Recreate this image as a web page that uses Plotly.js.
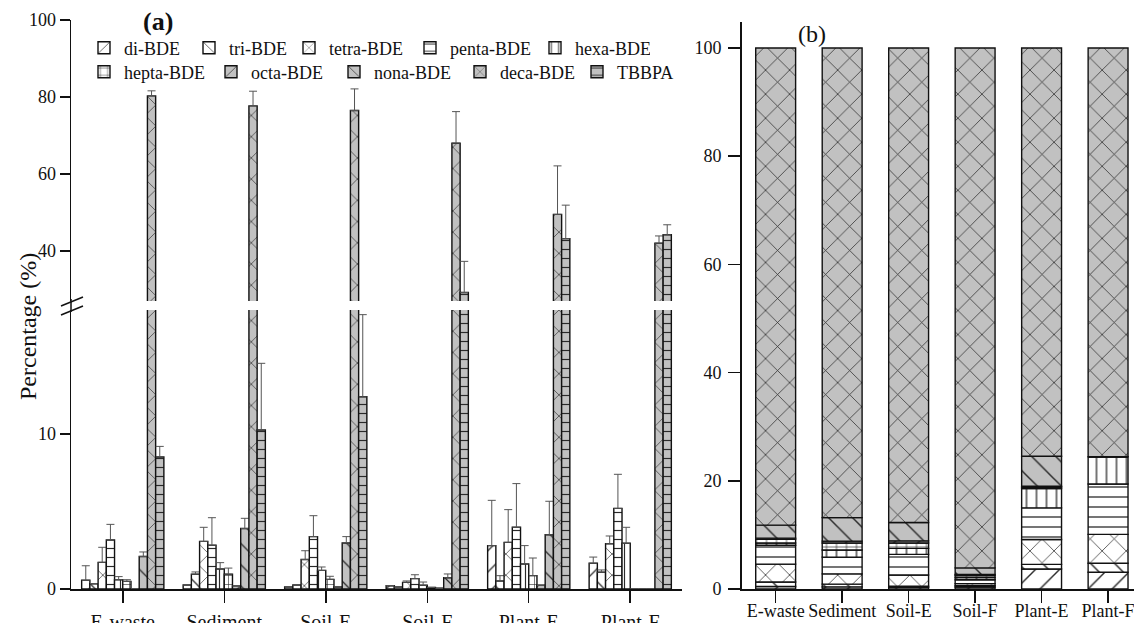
<!DOCTYPE html>
<html><head><meta charset="utf-8">
<script src="https://cdn.plot.ly/plotly-3.0.1.min.js"></script>
<style>body{margin:0;background:#fff}#chart{width:1134px;height:623px}</style>
</head><body><div id="chart"></div>
<script>
// ---------- DATA ----------
const categories = ['E-waste', 'Sediment', 'Soil-E', 'Soil-F', 'Plant-E', 'Plant-F'];
const seriesNames = ['di-BDE', 'tri-BDE', 'tetra-BDE', 'penta-BDE', 'hexa-BDE', 'hepta-BDE', 'octa-BDE', 'nona-BDE', 'deca-BDE', 'TBBPA'];

// Panel (a): mean percentage (%) and upper error (+SD)
const diA      = [0.56, 0.26, 0.13, 0.21, 2.80, 1.66];
const triA     = [0.34, 0.95, 0.26, 0.13, 0.52, 1.08];
const tetraA   = [1.72, 3.07, 1.90, 0.43, 3.01, 2.92];
const pentaA   = [3.16, 2.82, 3.38, 0.67, 3.98, 5.20];
const hexaA    = [0.60, 1.29, 1.20, 0.24, 1.61, 2.95];
const heptaA   = [0.49, 0.95, 0.62, 0.10, 0.86, 0.00];
const octaA    = [0.00, 0.20, 0.13, 0.05, 0.24, 0.00];
const nonaA    = [2.10, 3.90, 2.97, 0.73, 3.50, 0.00];
const decaA    = [80.3, 77.7, 76.5, 68.0, 49.5, 42.0];
const tbbpaA   = [8.52, 10.26, 12.4, 29.2, 43.2, 44.2];

const diErr    = [0.94, 0.00, 0.00, 0.00, 2.92, 0.40];
const triErr   = [0.00, 0.15, 0.00, 0.00, 0.34, 0.15];
const tetraErr = [0.97, 0.91, 0.57, 0.09, 2.11, 0.50];
const pentaErr = [1.01, 1.78, 1.35, 0.25, 2.82, 2.20];
const hexaErr  = [0.20, 0.41, 0.22, 0.21, 1.19, 1.03];
const heptaErr = [0.11, 0.40, 0.20, 0.00, 1.14, 0.00];
const octaErr  = [0.00, 0.00, 0.00, 0.00, 0.00, 0.00];
const nonaErr  = [0.29, 0.66, 0.41, 0.24, 2.16, 0.00];
const decaErr  = [1.3, 3.8, 5.6, 8.2, 12.6, 1.9];
const tbbpaErr = [0.68, 4.3, 5.3, 8.1, 8.7, 2.6];

// Panel (b): composition of PBDEs (%)
const diB    = [0.45, 0.40, 0.30, 0.35, 3.70, 3.10];
const triB   = [0.85, 0.50, 0.20, 0.25, 0.85, 1.65];
const tetraB = [3.30, 1.90, 2.10, 0.40, 4.60, 5.35];
const pentaB = [3.50, 3.10, 3.80, 0.70, 5.85, 9.30];
const hexaB  = [0.40, 1.30, 1.10, 0.40, 3.55, 5.05];
const heptaB = [0.70, 1.30, 1.00, 0.40, 0.25, 0.00];
const octaB  = [0.20, 0.35, 0.40, 0.20, 0.20, 0.00];
const nonaB  = [2.40, 4.35, 3.40, 1.20, 5.55, 0.00];
const decaB  = [88.20, 86.80, 87.70, 96.10, 75.45, 75.55];

// ---------- STYLE ----------
const FONT = 'Liberation Serif';
const GRAY = '#c1c1c1';
const styles = [
  {shape: '/',  bg: '#ffffff', diag: true},
  {shape: '\\', bg: '#ffffff', diag: true},
  {shape: 'x',  bg: '#ffffff', diag: true},
  {shape: '-',  bg: '#ffffff', diag: false},
  {shape: '|',  bg: '#ffffff', diag: false},
  {shape: '+',  bg: '#ffffff', diag: false},
  {shape: '/',  bg: GRAY, diag: true},
  {shape: '\\', bg: GRAY, diag: true},
  {shape: 'x',  bg: GRAY, diag: true},
  {shape: '-',  bg: GRAY, diag: false}
];
const legendWidths = [60, 55, 76, 80, 70, 82, 78, 81, 72, 60];

const valsA = [diA, triA, tetraA, pentaA, hexaA, heptaA, octaA, nonaA, decaA, tbbpaA];
const errsA = [diErr, triErr, tetraErr, pentaErr, hexaErr, heptaErr, octaErr, nonaErr, decaErr, tbbpaErr];
const valsB = [diB, triB, tetraB, pentaB, hexaB, heptaB, octaB, nonaB, decaB];

function marker(i, panel) {
  const s = styles[i];
  const size = s.diag ? (panel === 'b' ? 17 : 15) : (panel === 'b' ? 10 : 9);
  const sol = s.diag ? 0.085 : 0.13;
  return {
    color: s.bg,
    line: {color: '#111', width: 1.4},
    pattern: {shape: s.shape, bgcolor: s.bg, fgcolor: '#2a2a2a', size: size, solidity: sol, fillmode: 'replace'}
  };
}

const traces = [];
// panel (a): lower and upper segments of the broken axis
['y', 'y3'].forEach((ya, k) => {
  valsA.forEach((v, i) => {
    traces.push({
      type: 'bar', name: seriesNames[i], x: categories, y: v,
      xaxis: 'x', yaxis: ya,
      marker: marker(i, 'a'),
      error_y: {type: 'data', symmetric: false, array: errsA[i], arrayminus: v.map(() => 0),
                color: '#555', thickness: 1, width: 4},
      showlegend: k === 0,
      legend: i < 5 ? 'legend' : 'legend2',
      legendwidth: legendWidths[i],
      hoverinfo: 'skip'
    });
  });
});
// panel (b): stacked composition
const cum = categories.map(() => 0);
valsB.forEach((v, i) => {
  const base = cum.slice();
  v.forEach((val, j) => { cum[j] += val; });
  traces.push({
    type: 'bar', name: seriesNames[i], x: categories, y: v, base: base,
    xaxis: 'x2', yaxis: 'y2', offsetgroup: 'stackb', width: 0.6, offset: -0.3,
    marker: marker(i, 'b'), showlegend: false, hoverinfo: 'skip'
  });
});

// pixel -> paper helpers for decorations
const L = 71, W = 1063, B = 589, H = 569;
const px = x => (x - L) / W;
const py = y => (B - y) / H;

const axisCommon = {
  showline: true, linecolor: '#111', linewidth: 1.5, showgrid: false, zeroline: false,
  ticks: 'outside', tickcolor: '#111', tickwidth: 1.5,
  tickfont: {family: FONT, size: 18, color: '#111'}
};

const legendCommon = {orientation: 'h', x: px(84), xanchor: 'left', yanchor: 'middle',
  font: {family: FONT, size: 18, color: '#111'}, bgcolor: 'rgba(0,0,0,0)', borderwidth: 0, itemwidth: 30};

const layout = {
  width: 1134, height: 623,
  margin: {l: L, r: 0, t: 20, b: 34, pad: 0},
  paper_bgcolor: '#fff', plot_bgcolor: '#fff',
  barmode: 'group', bargap: 0.19, bargroupgap: 0,
  font: {family: FONT, size: 18, color: '#111'},
  xaxis: Object.assign({}, axisCommon, {domain: [0, px(682)], range: [-0.51, 5.51], anchor: 'y', ticklen: 12,
                                        ticklabelstandoff: 2, tickfont: {family: FONT, size: 20, color: '#111'}}),
  yaxis: Object.assign({}, axisCommon, {domain: [0, py(310)], range: [0, 18], tickvals: [0, 10], anchor: 'x', ticklen: 10}),
  yaxis3: Object.assign({}, axisCommon, {domain: [py(301), 1], range: [27, 100], tickvals: [40, 60, 80, 100], anchor: 'x', ticklen: 10}),
  xaxis2: Object.assign({}, axisCommon, {domain: [px(741.5), 1], range: [-0.514, 5.39], anchor: 'y2', ticklen: 12, ticklabelstandoff: -7}),
  yaxis2: Object.assign({}, axisCommon, {domain: [0, py(22)], range: [0, 104.8], tickvals: [0, 20, 40, 60, 80, 100], anchor: 'x2',
                                         ticklen: 12, ticklabelstandoff: 3}),
  legend: Object.assign({}, legendCommon, {y: py(48)}),
  legend2: Object.assign({}, legendCommon, {y: py(72)}),
  annotations: [
    {text: '<b>(a)</b>', xref: 'paper', yref: 'paper', x: px(158), y: py(22), xanchor: 'center', yanchor: 'middle', showarrow: false,
     font: {family: FONT, size: 26, color: '#111'}},
    {text: '(b)', xref: 'paper', yref: 'paper', x: px(812), y: py(34), xanchor: 'center', yanchor: 'middle', showarrow: false,
     font: {family: FONT, size: 24, color: '#111'}},
    {text: 'Percentage (%)', xref: 'paper', yref: 'paper', x: px(28), y: py(327), xanchor: 'center', yanchor: 'middle',
     textangle: -90, showarrow: false, font: {family: FONT, size: 24, color: '#111'}}
  ],
  shapes: [
    {type: 'line', xref: 'paper', yref: 'paper', x0: px(71), x1: px(71), y0: py(312), y1: py(299), line: {color: '#111', width: 1.5}},
    {type: 'line', xref: 'paper', yref: 'paper', x0: px(61), x1: px(83), y0: py(306), y1: py(297), line: {color: '#111', width: 1.5}},
    {type: 'line', xref: 'paper', yref: 'paper', x0: px(61), x1: px(83), y0: py(315), y1: py(306), line: {color: '#111', width: 1.5}}
  ]
};

Plotly.newPlot('chart', traces, layout, {displayModeBar: false, staticPlot: true});
</script>
</body></html>
